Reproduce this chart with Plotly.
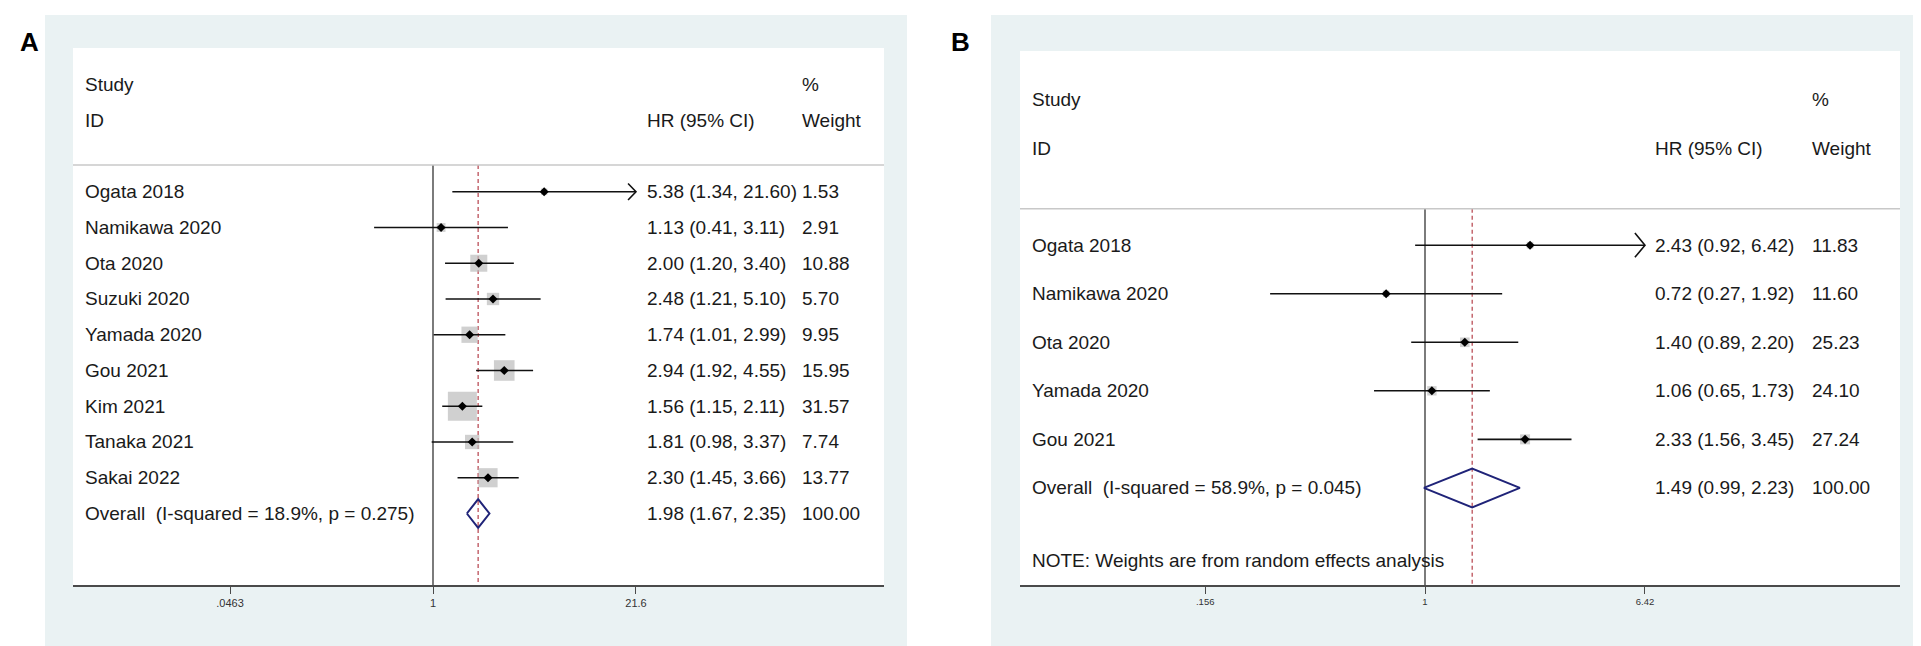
import numpy as np
import plotly.graph_objects as go

W, H = 1921, 646

# ---------------- data ----------------
# Panel A
studies_a = ["Ogata 2018", "Namikawa 2020", "Ota 2020", "Suzuki 2020", "Yamada 2020",
             "Gou 2021", "Kim 2021", "Tanaka 2021", "Sakai 2022"]
hr_a = [5.38, 1.13, 2.00, 2.48, 1.74, 2.94, 1.56, 1.81, 2.30]
lo_a = [1.34, 0.41, 1.20, 1.21, 1.01, 1.92, 1.15, 0.98, 1.45]
hi_a = [21.60, 3.11, 3.40, 5.10, 2.99, 4.55, 2.11, 3.37, 3.66]
w_a = [1.53, 2.91, 10.88, 5.70, 9.95, 15.95, 31.57, 7.74, 13.77]
overall_a = [1.98, 1.67, 2.35]
overall_label_a = "Overall  (I-squared = 18.9%, p = 0.275)"
ticks_a = [0.0463, 1, 21.6]
ticklabels_a = [".0463", "1", "21.6"]

# Panel B
studies_b = ["Ogata 2018", "Namikawa 2020", "Ota 2020", "Yamada 2020", "Gou 2021"]
hr_b = [2.43, 0.72, 1.40, 1.06, 2.33]
lo_b = [0.92, 0.27, 0.89, 0.65, 1.56]
hi_b = [6.42, 1.92, 2.20, 1.73, 3.45]
w_b = [11.83, 11.60, 25.23, 24.10, 27.24]
overall_b = [1.49, 0.99, 2.23]
overall_label_b = "Overall  (I-squared = 58.9%, p = 0.045)"
ticks_b = [0.156, 1, 6.42]
ticklabels_b = [".156", "1", "6.42"]
note_b = "NOTE: Weights are from random effects analysis"

# ---------------- styling / layout ----------------
FONT = "Liberation Sans, Arial, sans-serif"
TXT = "#1a1a1a"
REGION = "#eaf2f3"
NAVY = "#1f2378"
DASH_RED = "#b5404a"

# pixel geometry of each panel: outer box, white plot region, x=1 pixel, px per ln unit
panels = {
    "a": dict(outer=(37, 7, 899, 640), inner=(65, 40, 876, 577), x1=425, ppl=66.06,
              text_x=75, hr_x=637, wt_x=792, box_max=29, tickfont=11,
              studies=studies_a, hr=hr_a, lo=lo_a, hi=hi_a, w=w_a, overall=overall_a,
              overall_label=overall_label_a, ticks=ticks_a, ticklabels=ticklabels_a,
              note=None, ytop=-4.02, chev=(0.12, 0.23)),
    "b": dict(outer=(983, 7, 1915, 640), inner=(1012, 43, 1892, 577), x1=1417, ppl=118.3,
              text_x=1022, hr_x=1645, wt_x=1802, box_max=10, tickfont=9.5,
              studies=studies_b, hr=hr_b, lo=lo_b, hi=hi_b, w=w_b, overall=overall_b,
              overall_label=overall_label_b, ticks=ticks_b, ticklabels=ticklabels_b,
              note=note_b, ytop=-4.0, chev=(0.085, 0.25)),
}

fig = go.Figure()
shapes = []
annotations = []

for i, (key, p) in enumerate(panels.items()):
    ax = "" if i == 0 else str(i + 1)
    xname, yname = "x" + ax, "y" + ax
    ox0, oy0, ox1, oy1 = p["outer"]
    ix0, iy0, ix1, iy1 = p["inner"]
    n = len(p["studies"])
    r_over = n
    y_axis = n + 2
    sep = -0.75

    # background boxes
    shapes.append(dict(type="rect", xref="paper", yref="paper", layer="below",
                       x0=ox0 / W, x1=ox1 / W, y0=1 - oy1 / H, y1=1 - oy0 / H,
                       fillcolor=REGION, line=dict(width=0)))
    shapes.append(dict(type="rect", xref="paper", yref="paper", layer="below",
                       x0=ix0 / W, x1=ix1 / W, y0=1 - iy1 / H, y1=1 - iy0 / H,
                       fillcolor="white", line=dict(width=0)))
    # header separator
    shapes.append(dict(type="line", xref=xname + " domain", yref=yname,
                       x0=0, x1=1, y0=sep, y1=sep, line=dict(color="#c8c8c8", width=1.5)))

    # reference line at 1 and overall dashed line
    fig.add_trace(go.Scatter(x=[1, 1], y=[sep, y_axis], mode="lines",
                             line=dict(color="#444", width=1.4), xaxis=xname, yaxis=yname,
                             showlegend=False, hoverinfo="skip"))
    fig.add_trace(go.Scatter(x=[p["overall"][0]] * 2, y=[sep, y_axis], mode="lines",
                             line=dict(color=DASH_RED, width=1.2, dash="4px,3px"),
                             xaxis=xname, yaxis=yname, showlegend=False, hoverinfo="skip"))

    rows = list(range(n))
    wmax = max(p["w"])
    sizes = [p["box_max"] * np.sqrt(w / wmax) for w in p["w"]]
    # weight boxes
    fig.add_trace(go.Scatter(x=p["hr"], y=rows, mode="markers",
                             marker=dict(symbol="square", size=sizes, color="#bcbcbc",
                                         line=dict(width=0)),
                             xaxis=xname, yaxis=yname, showlegend=False, hoverinfo="skip"))
    # CI lines
    for r, lo, hi in zip(rows, p["lo"], p["hi"]):
        fig.add_trace(go.Scatter(x=[lo, hi], y=[r, r], mode="lines",
                                 line=dict(color="#111", width=1.6),
                                 xaxis=xname, yaxis=yname, showlegend=False, hoverinfo="skip"))
        if hi >= p["ticks"][-1]:
            dx, dy = p["chev"]
            back = hi / np.exp(dx)
            fig.add_trace(go.Scatter(x=[back, hi, back], y=[r - dy, r, r + dy], mode="lines",
                                     line=dict(color="#111", width=1.6),
                                     xaxis=xname, yaxis=yname, showlegend=False,
                                     hoverinfo="skip"))
    # point estimates
    fig.add_trace(go.Scatter(x=p["hr"], y=rows, mode="markers",
                             marker=dict(symbol="diamond", size=7, color="black"),
                             xaxis=xname, yaxis=yname, showlegend=False, hoverinfo="skip"))
    # overall diamond
    est, lo, hi = p["overall"]
    hh = 0.4
    fig.add_trace(go.Scatter(x=[lo, est, hi, est, lo], y=[r_over, r_over - hh, r_over, r_over + hh, r_over],
                             mode="lines", line=dict(color=NAVY, width=2),
                             xaxis=xname, yaxis=yname, showlegend=False, hoverinfo="skip"))

    def dom(px):
        return (px - ix0) / (ix1 - ix0)

    def add_text(px, row, text):
        annotations.append(dict(x=dom(px), y=row, xref=xname + " domain", yref=yname,
                                text=text, showarrow=False, xanchor="left", yanchor="middle",
                                font=dict(family=FONT, size=19, color=TXT)))

    # header
    add_text(p["text_x"], -3, "Study")
    add_text(p["text_x"], -2, "ID")
    add_text(p["hr_x"], -2, "HR (95% CI)")
    add_text(p["wt_x"], -3, "%")
    add_text(p["wt_x"], -2, "Weight")
    # rows
    for r in rows:
        add_text(p["text_x"], r, p["studies"][r])
        add_text(p["hr_x"], r, f"{p['hr'][r]:.2f} ({p['lo'][r]:.2f}, {p['hi'][r]:.2f})")
        add_text(p["wt_x"], r, f"{p['w'][r]:.2f}")
    add_text(p["text_x"], r_over, p["overall_label"])
    add_text(p["hr_x"], r_over, f"{est:.2f} ({lo:.2f}, {hi:.2f})")
    add_text(p["wt_x"], r_over, "100.00")
    if p["note"]:
        add_text(p["text_x"], r_over + 1.5, p["note"])

    ln_min = (ix0 - p["x1"]) / p["ppl"]
    ln_max = (ix1 - p["x1"]) / p["ppl"]
    fig.layout["xaxis" + ax] = dict(
        type="log", domain=[ix0 / W, ix1 / W],
        range=[ln_min / np.log(10), ln_max / np.log(10)],
        anchor=yname, showgrid=False, zeroline=False,
        showline=True, linecolor="#4a4a4a", linewidth=1.5,
        ticks="outside", ticklen=7, tickwidth=1.4, tickcolor="#4a4a4a",
        tickvals=p["ticks"], ticktext=p["ticklabels"],
        tickfont=dict(family=FONT, size=p["tickfont"], color="#333"),
    )
    fig.layout["yaxis" + ax] = dict(
        domain=[1 - iy1 / H, 1 - iy0 / H], range=[y_axis, p["ytop"]],
        anchor=xname, visible=False, showgrid=False, zeroline=False,
    )

# panel letters
annotations.append(dict(x=10 / W, y=1 - 17 / H, xref="paper", yref="paper", text="<b>A</b>",
                        showarrow=False, font=dict(family=FONT, size=26, color="black")))
annotations.append(dict(x=952 / W, y=1 - 17 / H, xref="paper", yref="paper", text="<b>B</b>",
                        showarrow=False, font=dict(family=FONT, size=26, color="black")))

fig.update_layout(
    width=W, height=H,
    margin=dict(l=0, r=0, t=0, b=0),
    paper_bgcolor="white",
    plot_bgcolor="rgba(0,0,0,0)",
    shapes=shapes,
    annotations=annotations,
    showlegend=False,
)

fig.write_html("out.html")
